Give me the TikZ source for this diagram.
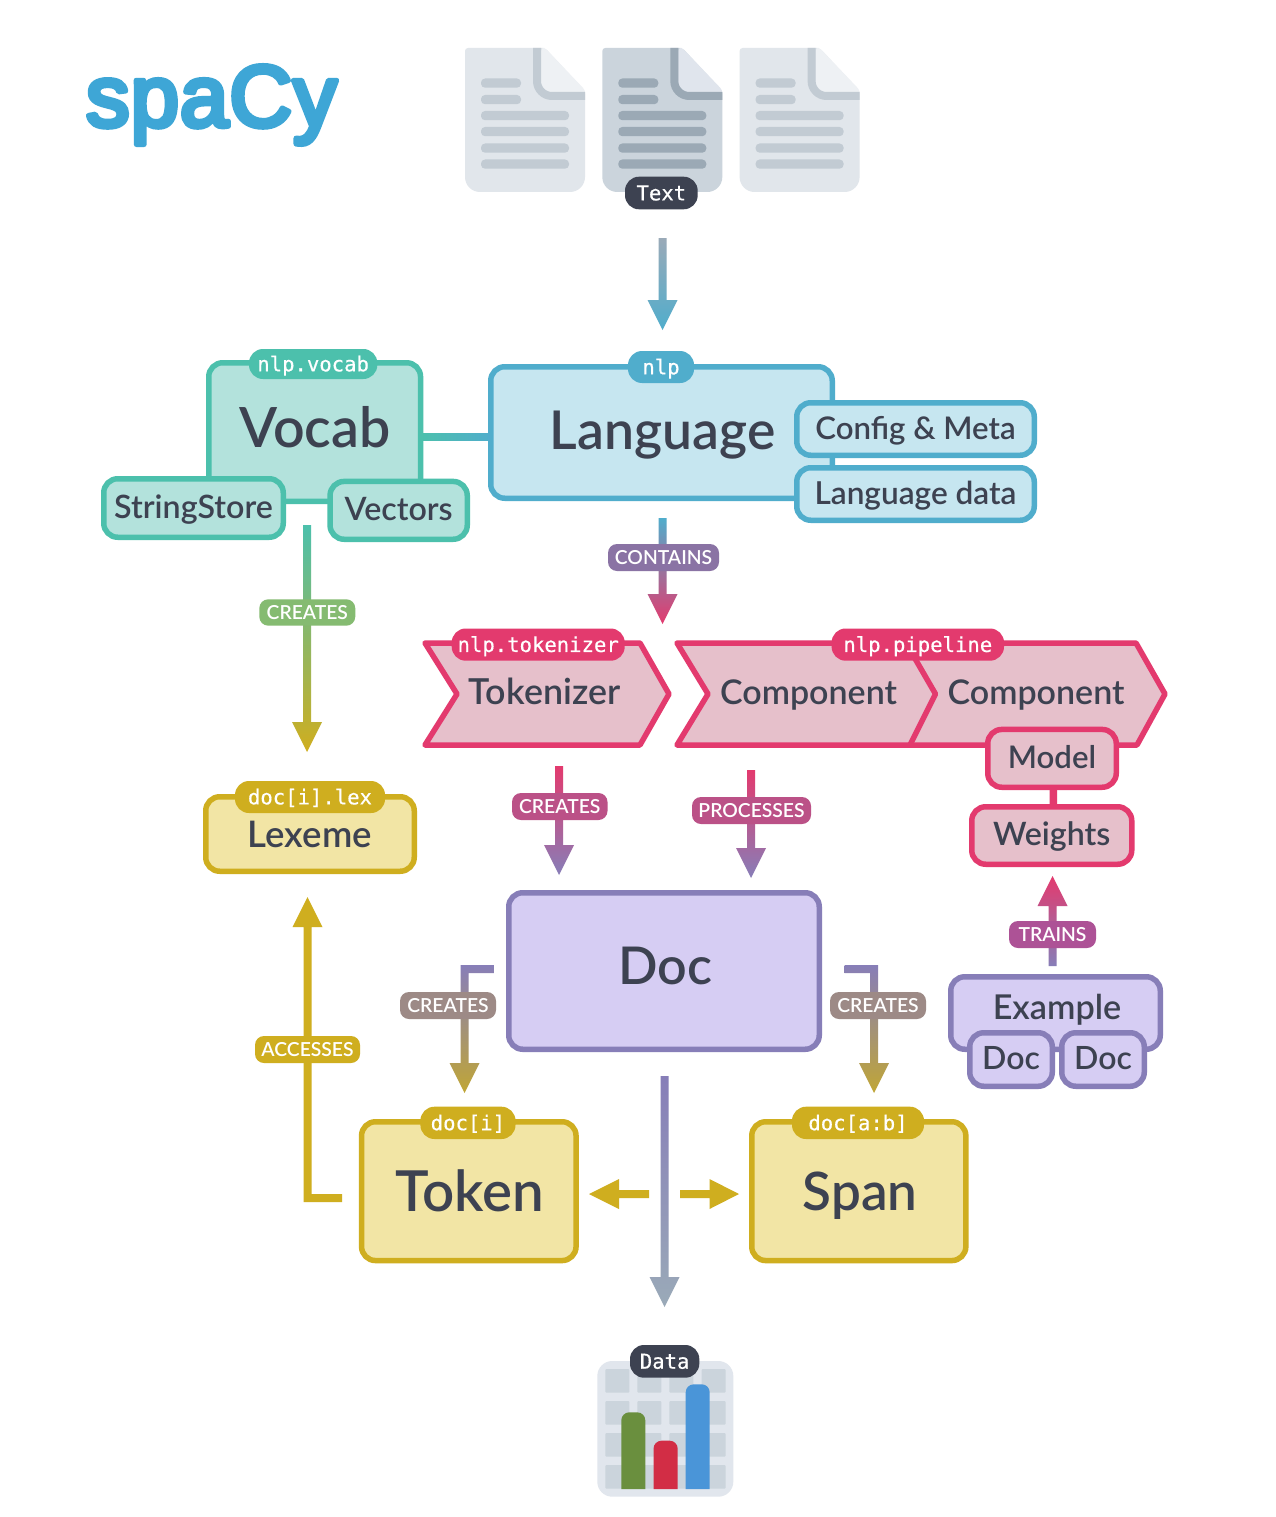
\documentclass[tikz,border=0pt]{standalone}
\usepackage{fontspec}
\setmainfont{Lato Semibold}
\newfontfamily\monof{DejaVu Sans Mono}[FakeBold=0.5]
\newfontfamily\titlef{Liberation Sans}[FakeBold=6,LetterSpace=1.2]
\usetikzlibrary{calc}
\definecolor{ink}{HTML}{3D4251}
\definecolor{tealS}{HTML}{4CC0AC}\definecolor{tealF}{HTML}{B3E2DC}
\definecolor{blueS}{HTML}{50ADCC}\definecolor{blueF}{HTML}{C6E6F0}
\definecolor{pinkS}{HTML}{E33A6E}\definecolor{pinkF}{HTML}{E6C0CB}
\definecolor{purpS}{HTML}{877EB8}\definecolor{purpF}{HTML}{D6CDF3}
\definecolor{yellS}{HTML}{CFAE1F}\definecolor{yellF}{HTML}{F2E5A5}
\definecolor{yellD}{HTML}{C0A636}
\definecolor{grayA}{HTML}{9AAAB8}
\definecolor{titleC}{HTML}{3EA6D6}
\definecolor{lblGreen}{HTML}{85BB71}\definecolor{lblPurple}{HTML}{8A73A4}
\definecolor{lblPink}{HTML}{BB5187}\definecolor{lblBrown}{HTML}{9D8A86}
\definecolor{lblMag}{HTML}{AD5296}
\definecolor{fileLB}{HTML}{E1E6EB}\definecolor{fileLL}{HTML}{C2CBD3}\definecolor{fileLF}{HTML}{EEF1F4}
\definecolor{fileDB}{HTML}{CBD4DC}\definecolor{fileDL}{HTML}{9BA9B5}\definecolor{fileDF}{HTML}{E0E5ED}
\definecolor{chartBg}{HTML}{E1E6ED}\definecolor{chartCell}{HTML}{CBD4DC}
\definecolor{barG}{HTML}{6A8F3E}\definecolor{barR}{HTML}{D22D45}\definecolor{barB}{HTML}{4A95D8}
\newcommand{\fz}[1]{\fontsize{#1}{#1}\selectfont}
\tikzset{
  boxbase/.style={draw,line width=5.5pt,rounded corners=14pt,inner sep=0pt,outer sep=0pt,text=ink,align=center},
  tealbox/.style={boxbase,draw=tealS,fill=tealF},
  bluebox/.style={boxbase,draw=blueS,fill=blueF},
  pinkbox/.style={boxbase,draw=pinkS,fill=pinkF},
  purpbox/.style={boxbase,draw=purpS,fill=purpF},
  yellbox/.style={boxbase,draw=yellS,fill=yellF},
  capsize/.style 2 args={font=\fz{#1},text height=0.72*#1 pt,text depth=#2 pt},
  badge/.style={fill=#1,text=white,rounded corners=14pt,inner sep=0pt,outer sep=0pt,font=\monof\fz{20.6},text height=14.7pt,text depth=0pt},
  verb/.style={fill=#1,text=white,rounded corners=9pt,inner sep=0pt,outer sep=0pt,font=\fz{19.3},text height=14pt,text depth=0pt},
  plain/.style={text=ink,inner sep=0pt,outer sep=0pt},
  pipe/.style={line width=7.5pt,line cap=butt},
}
% #1 name #2 x1 #3 y1 #4 x2 #5 y2 #6 style #7 text : outer bounds
\newcommand{\bx}[7]{%
  \pgfmathsetmacro\cxx{(#2+#4)/2}\pgfmathsetmacro\cyy{(#3+#5)/2}%
  \pgfmathsetmacro\wdd{#4-#2-5.5}\pgfmathsetmacro\htt{#5-#3-5.5}%
  \node[#6,minimum width=\wdd pt,minimum height=\htt pt] (#1) at (\cxx,\cyy) {#7};}
\newcommand{\lb}[7]{%
  \pgfmathsetmacro\cxx{(#2+#4)/2}\pgfmathsetmacro\cyy{(#3+#5)/2}%
  \pgfmathsetmacro\wdd{#4-#2}\pgfmathsetmacro\htt{#5-#3}%
  \node[#6,minimum width=\wdd pt,minimum height=\htt pt] (#1) at (\cxx,\cyy) {#7};}
% vertical arrow, start, tip, colour at top, colour at bottom
\newcommand{\vdn}[4]{\shade[top color=#3,bottom color=#4]
  ($(#1)+(-4,0)$) -- ($(#2)+(-4,-30)$) -- ($(#2)+(-15,-30)$) -- (#2) -- ($(#2)+(15,-30)$) -- ($(#2)+(4,-30)$) -- ($(#1)+(4,0)$) -- cycle;}
\newcommand{\vup}[4]{\shade[top color=#3,bottom color=#4]
  ($(#1)+(-4,0)$) -- ($(#2)+(-4,30)$) -- ($(#2)+(-15,30)$) -- (#2) -- ($(#2)+(15,30)$) -- ($(#2)+(4,30)$) -- ($(#1)+(4,0)$) -- cycle;}
\newcommand{\fileicon}[4]{% xshift, body, line, fold
  \begin{scope}[xshift=#1pt]
    \fill[#2,rounded corners=15pt] (465,48) -- (465,192) -- (585,192) -- (585,110) [rounded corners=3pt] -- (585,91) -- (545,48) -- cycle;
    \fill[#4,rounded corners=3pt] (541,48) -- (545,48) -- (585,90) -- (585,96) -- (541,96) -- cycle;
    \draw[#3,line width=8pt] (537,48) -- (537,81) arc[start angle=180,end angle=90,radius=15] -- (585,96);
    \foreach \yy/\xe in {78.5/521,95/521,111/569,127/569,143.5/569,159.5/569}
      \fill[#3,rounded corners=4pt] (481,\yy) rectangle (\xe,\yy+9.2);
  \end{scope}}
\begin{document}
\begin{tikzpicture}[x=1pt,y=-1pt]
\useasboundingbox (0,0) rectangle (1275,1517);
\fill[white] (0,0) rectangle (1275,1517);
\begin{scope}[line join=round,line cap=round]
\node[text=titleC,inner sep=0pt,font=\titlef\fz{87}] (title) at (211.5,105) {spaCy};
\end{scope}
% text icons
\fileicon{0}{fileLB}{fileLL}{fileLF}
\fileicon{137.3}{fileDB}{fileDL}{fileDF}
\fileicon{274.6}{fileLB}{fileLL}{fileLF}
\lb{textbadge}{625}{176.7}{697.7}{209.3}{badge=ink}{Text}
% coordinates of free arrow ends
\coordinate (textS) at (662.5,238); \coordinate (textE) at (662.5,330);
\coordinate (contS) at (662.5,518); \coordinate (contE) at (662.5,624);
\coordinate (vocS) at (307,525);   \coordinate (vocE) at (307,752);
\coordinate (tokS) at (559,766);   \coordinate (tokE) at (559,875);
\coordinate (procS) at (751,770);  \coordinate (procE) at (751,878);
\coordinate (trainS) at (1052.5,966); \coordinate (trainE) at (1052.5,876);
\coordinate (accE) at (307.5,897);
\coordinate (midS) at (664.5,1076); \coordinate (midE) at (664.5,1307);
\vdn{textS}{textE}{grayA}{blueS}
% vocab + language
\shade[left color=tealS,right color=blueS] (420,433.3) rectangle (492,440.7);
\bx{vocab}{206}{360}{423.3}{504}{tealbox}{}
\node[plain,capsize={55.5}{0}] (vocabt) at (315,427.5) {Vocab};
\lb{vocabb}{249}{349}{377.3}{379}{badge=tealS}{nlp.vocab}
\bx{strings}{101}{476}{286}{540}{tealbox,capsize={32.2}{3}}{StringStore}
\bx{vectors}{327.3}{478.7}{470}{542}{tealbox,capsize={32.2}{3}}{Vectors}
\bx{language}{488}{364}{835}{501}{bluebox}{}
\node[plain,capsize={53.5}{0}] (langt) at (662.5,430) {Language};
\lb{langb}{628}{351}{694}{383}{badge=blueS}{nlp}
\bx{config}{794}{400}{1037}{458}{bluebox,capsize={31.2}{2}}{Config \& Meta}
\bx{langdata}{794}{465}{1037}{523}{bluebox,capsize={31.6}{2}}{Language data}
% contains, creates
\vdn{contS}{contE}{blueS}{pinkS}
\lb{contl}{608}{544}{719}{571}{verb=lblPurple}{CONTAINS}
\vdn{vocS}{vocE}{tealS}{yellS}
\lb{vocl}{259.3}{599.3}{355.3}{625.7}{verb=lblGreen}{CREATES}
% pipeline chevrons
\draw[line width=5.5pt,draw=pinkS,fill=pinkF,line join=round] (425,643) -- (457,694) -- (425,745) -- (640,745) -- (669,694) -- (640,643) -- cycle;
\node[plain,capsize={35.8}{0}] (tokenizer) at (544.5,692) {Tokenizer};
\draw[line width=5.5pt,draw=pinkS,fill=pinkF,line join=round] (677,643) -- (708,694) -- (677,745) -- (1137,745) -- (1165,694) -- (1136,643) -- cycle;
\draw[line width=5.5pt,draw=pinkS,line join=round] (906,643) -- (935.5,694) -- (910,745);
\node[plain,capsize={34}{0}] (comp1) at (808.5,692) {Component};
\node[plain,capsize={34}{0}] (comp2) at (1036,692) {Component};
\lb{tokb}{451.7}{628.5}{624.7}{660.7}{badge=pinkS}{nlp.tokenizer}
\lb{pipeb}{831.6}{628.5}{1004}{660.7}{badge=pinkS}{nlp.pipeline}
\bx{model}{985}{726.7}{1119}{790}{pinkbox,capsize={31.2}{3}}{Model}
\bx{weights}{969}{804}{1134.5}{867}{pinkbox,capsize={32.2}{3}}{Weights}
\draw[pipe,draw=pinkS] ([xshift=1.5pt]model.south) -- ([xshift=1.5pt]weights.north);
\vdn{tokS}{tokE}{pinkS}{purpS}
\lb{tokl}{512}{793}{607.5}{820}{verb=lblPink}{CREATES}
\vdn{procS}{procE}{pinkS}{purpS}
\lb{procl}{692}{797}{811}{824}{verb=lblPink}{PROCESSES}
% doc
\bx{doc}{506}{890}{822}{1052}{purpbox}{}
\node[plain,capsize={52}{0}] (doct) at (665.5,966) {Doc};
% lexeme
\bx{lexeme}{203}{794}{417}{874}{yellbox,capsize={36.6}{0}}{Lexeme}
\lb{lexb}{235}{781}{385}{813}{badge=yellS}{doc[i].lex}
% elbows
\coordinate (lelS) at (494,969); \coordinate (lelE) at (464.5,1093);
\coordinate (relS) at (844.5,969); \coordinate (relE) at (874,1093);
\shade[top color=purpS,bottom color=yellD]
  ($(lelS)+(0,-4)$) -- (460.5,965) -- (460.5,1063) -- (449.5,1063) -- (lelE) -- (479.5,1063) -- (468.5,1063) -- (468.5,973) -- ($(lelS)+(0,4)$) -- cycle;
\shade[top color=purpS,bottom color=yellD]
  ($(relS)+(0,-4)$) -- (878,965) -- (878,1063) -- (889,1063) -- (relE) -- (859,1063) -- (870,1063) -- (870,973) -- ($(relS)+(0,4)$) -- cycle;
\lb{lell}{400}{992}{496}{1019}{verb=lblBrown}{CREATES}
\lb{rell}{830}{992}{926}{1019}{verb=lblBrown}{CREATES}
% token, span
\bx{token}{358.8}{1119}{578.8}{1263.3}{yellbox}{}
\node[plain,capsize={56.5}{0}] (tokent) at (469.5,1191) {Token};
\lb{tokenb}{420.4}{1106.7}{515.5}{1139}{badge=yellS}{doc[i]}
\bx{span}{749}{1119}{968.6}{1263.3}{yellbox}{}
\node[plain,capsize={53}{0}] (spant) at (860,1191) {Span};
\lb{spanb}{792}{1106.7}{924}{1139}{badge=yellS}{doc[a:b]}
% accesses
\coordinate (accS) at (342,1198);
\fill[yellS] ($(accS)+(0,-4)$) -- (311.5,1194) -- (311.5,927) -- (322.5,927) -- (accE) -- (292.5,927) -- (303.5,927) -- (303.5,1202) -- ($(accS)+(0,4)$) -- cycle;
\lb{accl}{255}{1036}{360}{1063}{verb=yellS}{ACCESSES}
% middle arrow
\vdn{midS}{midE}{purpS}{grayA}
\coordinate (sideL) at (589,1194); \coordinate (sideR) at (739,1194);
\fill[yellS] (649,1190) -- (619,1190) -- (619,1179) -- (sideL) -- (619,1209) -- (619,1198) -- (649,1198) -- cycle;
\fill[yellS] (680,1190) -- (709.5,1190) -- (709.5,1179) -- (sideR) -- (709.5,1209) -- (709.5,1198) -- (680,1198) -- cycle;
% example
\vup{trainS}{trainE}{pinkS}{purpS}
\lb{trainl}{1009}{921}{1096}{948}{verb=lblMag}{TRAINS}
\bx{example}{948}{974}{1163}{1052}{purpbox}{}
\node[plain,capsize={34.2}{0}] (examplet) at (1057,1007) {Example};
\bx{doca}{967}{1030}{1055}{1089}{purpbox,capsize={32}{3}}{Doc}
\bx{docb}{1059}{1030}{1147}{1089}{purpbox,capsize={32}{3}}{Doc}
% data icon
\fill[chartBg,rounded corners=15pt] (597.3,1361) rectangle (733.3,1496.7);
\foreach \xx in {605.3,637.3,669.3,701.7}
  \foreach \yy in {1369,1401,1433,1465}
    \fill[chartCell,rounded corners=1pt] (\xx,\yy) rectangle (\xx+24,\yy+23.7);
\fill[barG,rounded corners=8pt] (621.3,1489) -- (621.3,1412.3) -- (645.3,1412.3) [sharp corners] -- (645.3,1489) -- cycle;
\fill[barR,rounded corners=8pt] (653.5,1489) -- (653.5,1440.7) -- (677.7,1440.7) [sharp corners] -- (677.7,1489) -- cycle;
\fill[barB,rounded corners=8pt] (685.7,1489) -- (685.7,1384.3) -- (709.7,1384.3) [sharp corners] -- (709.7,1489) -- cycle;
\lb{databadge}{630}{1345}{699.3}{1377.7}{badge=ink}{Data}
\end{tikzpicture}
\end{document}
